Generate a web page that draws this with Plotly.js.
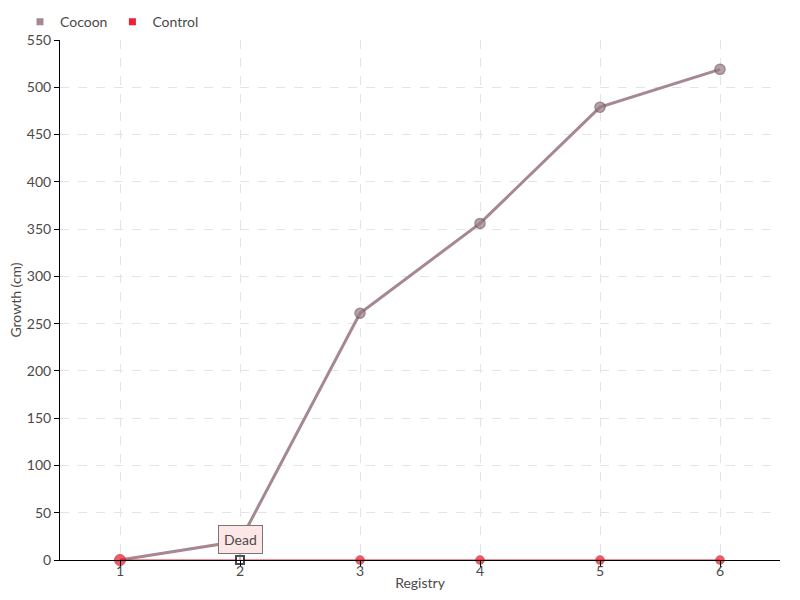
<!DOCTYPE html>
<html><head><meta charset="utf-8">
<script src="https://cdn.plot.ly/plotly-3.0.1.min.js"></script>
<style>body{margin:0;}#chart{width:800px;height:600px;}</style>
</head><body><div id="chart"></div>
<script>
const registry = ['1','2','3','4','5','6'];
const cocoon = [0, 20, 261, 356, 479, 519];
const control = [0, 0, 0, 0, 0, 0];
const seriesNames = ['Cocoon', 'Control'];
const seriesColors = ['#a58890', '#ee1f36'];
const yTicks = [0,50,100,150,200,250,300,350,400,450,500,550];

const FONT = 'Lato, "Open Sans", sans-serif';
const TXT = '#4a4a4a';

const xs = registry.map(Number);
const traces = [
  {
    x: xs, y: cocoon, name: seriesNames[0], type: 'scatter', mode: 'lines+markers',
    showlegend: false, cliponaxis: false,
    line: {color: seriesColors[0], width: 3},
    marker: {size: [0, 0, 10, 10, 10, 10], color: '#9a7c85', line: {color: '#6f5960', width: 1.5}, symbol: 'circle'},
    hoverinfo: 'none'
  },
  {
    x: xs, y: control, name: seriesNames[1], type: 'scatter', mode: 'lines+markers',
    showlegend: false, cliponaxis: false,
    line: {color: seriesColors[1], width: 1.2},
    marker: {size: [11, 8, 9, 9, 9, 9],
             color: ['#e8152d', '#ffffff', '#e0182b', '#e0182b', '#e0182b', '#e0182b'],
             symbol: ['circle', 'square', 'circle', 'circle', 'circle', 'circle'],
             line: {color: ['#c0101f', '#000000', '#d01020', '#d01020', '#d01020', '#d01020'], width: [1, 2, 0.5, 0.5, 0.5, 0.5]}},
    hoverinfo: 'none'
  },
  {x: [null], y: [null], name: seriesNames[0], type: 'scatter', mode: 'markers',
   marker: {symbol: 'square', size: 7, color: seriesColors[0]}, hoverinfo: 'none'},
  {x: [null], y: [null], name: seriesNames[1], type: 'scatter', mode: 'markers',
   marker: {symbol: 'square', size: 7, color: seriesColors[1]}, hoverinfo: 'none'}
];

const layout = {
  width: 800, height: 600,
  margin: {l: 60, r: 20, t: 40, b: 40, autoexpand: false},
  paper_bgcolor: '#ffffff', plot_bgcolor: '#ffffff',
  font: {family: FONT, size: 14, color: TXT},
  showlegend: true,
  legend: {orientation: 'h', x: 0.025, xref: 'container', xanchor: 'left', y: 0.963, yref: 'container', yanchor: 'middle',
           font: {family: FONT, size: 14, color: TXT}, itemwidth: 30, tracegroupgap: 0, borderwidth: 0,
           bgcolor: 'rgba(0,0,0,0)'},
  xaxis: {
    range: [0.5, 6.5], tickmode: 'array', tickvals: xs, ticktext: registry,
    showgrid: true, gridcolor: '#e4e4e4', griddash: 'dash', gridwidth: 1,
    showline: true, linecolor: '#000000', linewidth: 1,
    ticks: 'outside', ticklen: 6, tickcolor: '#000000', zeroline: false,
    ticklabelstandoff: -8, automargin: true,
    tickfont: {family: FONT, size: 14, color: TXT},
    title: {text: 'Registry', font: {family: FONT, size: 14, color: TXT}, standoff: 0}
  },
  yaxis: {
    range: [0, 550], tickmode: 'array', tickvals: yTicks,
    showgrid: true, gridcolor: '#e4e4e4', griddash: 'dash', gridwidth: 1,
    showline: true, linecolor: '#000000', linewidth: 1,
    ticks: 'outside', ticklen: 5, tickcolor: '#000000', zeroline: false,
    automargin: true,
    tickfont: {family: FONT, size: 14, color: TXT},
    title: {text: 'Growth (cm)', font: {family: FONT, size: 14, color: TXT}, standoff: 1}
  },
  annotations: [{
    x: 2, y: 0, xref: 'x', yref: 'y', text: 'Dead', showarrow: true,
    arrowhead: 0, arrowwidth: 1, arrowcolor: '#777777', ax: 0, ay: -21,
    bgcolor: '#fde6e6', bordercolor: '#777777', borderwidth: 1, borderpad: 5,
    font: {family: FONT, size: 14, color: TXT}
  }]
};

Plotly.newPlot('chart', traces, layout, {displayModeBar: false, staticPlot: true});
</script></body></html>
